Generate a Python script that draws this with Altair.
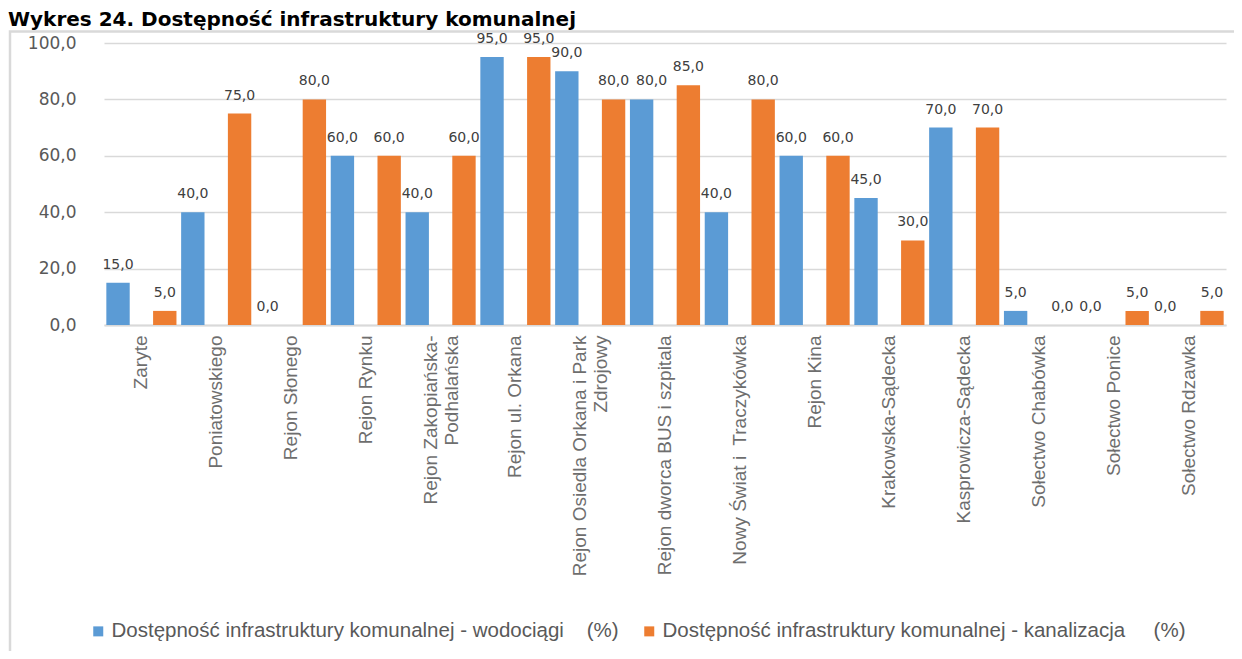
import altair as alt
import pandas as pd

NB = "\u00a0"

categories = [
    "Zaryte",
    "Poniatowskiego",
    "Rejon Słonego",
    "Rejon Rynku",
    "Rejon Zakopiańska-|Podhalańska" + NB * 6,
    "Rejon ul. Orkana",
    "Rejon Osiedla Orkana i Park|Zdrojowy" + NB * 16,
    "Rejon dworca BUS i szpitala",
    "Nowy Świat i" + NB + " Traczykówka",
    "Rejon Kina",
    "Krakowska-Sądecka",
    "Kasprowicza-Sądecka",
    "Sołectwo Chabówka",
    "Sołectwo Ponice",
    "Sołectwo Rdzawka",
]
wodociagi = [15, 40, 0, 60, 40, 95, 90, 80, 40, 60, 45, 70, 5, 0, 0]
kanalizacja = [5, 75, 80, 60, 60, 95, 80, 85, 80, 60, 30, 70, 0, 5, 5]
series_names = [
    "Dostępność infrastruktury komunalnej - wodociągi" + NB * 3 + " (%)",
    "Dostępność infrastruktury komunalnej - kanalizacja" + NB * 4 + " (%)",
]
series_colors = ["#5B9BD5", "#ED7D31"]
y_ticks = [0, 20, 40, 60, 80, 100]
title_text = "Wykres 24. Dostępność infrastruktury komunalnej"
# the one data label that the reference nudges sideways to avoid its neighbour
nudged_category = "Rejon dworca BUS i szpitala"

rows = []
for i, c in enumerate(categories):
    rows.append({"cat": c, "series": series_names[0], "value": wodociagi[i],
                 "nudge": c == nudged_category})
    rows.append({"cat": c, "series": series_names[1], "value": kanalizacja[i],
                 "nudge": False})
df = pd.DataFrame(rows)

x_enc = alt.X(
    "cat:N",
    sort=categories,
    scale=alt.Scale(paddingInner=0, paddingOuter=0),
    axis=alt.Axis(
        title=None,
        labelAngle=270,
        labelAlign="right",
        labelBaseline="middle",
        labelPadding=10,
        labelOffset={"condition": {"test": "indexof(datum.value, '|') >= 0", "value": -10}, "value": 0},
        labelFont="Liberation Sans",
        labelFontSize=19,
        labelColor="#6e6e6e",
        labelLimit=0,
        labelLineHeight=21,
        labelExpr="split(datum.label, '|')",
        ticks=False,
        grid=False,
        domain=True,
        domainColor="#d9d9d9",
        domainWidth=2,
        labelOverlap=False,
    ),
)
xoff_enc = alt.XOffset(
    "series:N",
    scale=alt.Scale(domain=[series_names[0], "_gap", series_names[1]],
                    paddingInner=0, paddingOuter=0.1),
)
y_enc = alt.Y(
    "value:Q",
    scale=alt.Scale(domain=[0, 100], nice=False),
    axis=alt.Axis(
        title=None,
        values=y_ticks,
        labelExpr="replace(format(datum.value, '.1f'), '.', ',')",
        labelFont="DejaVu Sans",
        labelFontSize=17,
        labelColor="#595959",
        labelPadding=28,
        ticks=False,
        domain=False,
        grid=True,
        gridColor="#d9d9d9",
        gridWidth=1.3,
    ),
)

base = alt.Chart(df)

bars = base.mark_bar().encode(
    x=x_enc,
    xOffset=xoff_enc,
    y=y_enc,
    color=alt.Color(
        "series:N",
        scale=alt.Scale(domain=series_names, range=series_colors),
        legend=alt.Legend(
            title=None,
            orient="none",
            legendX=-16,
            legendY=578,
            direction="horizontal",
            symbolType="square",
            symbolSize=100,
            symbolStrokeWidth=0,
            labelFont="Liberation Sans",
            labelFontSize=20.5,
            labelColor="#595959",
            labelLimit=0,
            labelOffset=3,
            columnPadding=20,
        ),
    ),
)

label_base = base.transform_calculate(
    lbl="replace(format(datum.value, '.1f'), '.', ',')"
)
label_enc = dict(
    x=alt.X("cat:N", sort=categories),
    xOffset=alt.XOffset("series:N"),
    y=alt.Y("value:Q"),
    text="lbl:N",
)
label_style = dict(font="DejaVu Sans", fontSize=14, color="#404040", baseline="alphabetic", dy=-14)

labels = label_base.transform_filter("!datum.nudge").mark_text(**label_style).encode(**label_enc)
labels_nudged = label_base.transform_filter("datum.nudge").mark_text(dx=10, **label_style).encode(**label_enc)

one = pd.DataFrame({"a": [0]})
frame = alt.Chart(one).mark_rect(fill="transparent", stroke="#d9d9d9", strokeWidth=2.5).encode(
    x=alt.value(-94), x2=alt.value(1200), y=alt.value(-11.5), y2=alt.value(700)
)
title = alt.Chart(one).mark_text(
    text=title_text, font="DejaVu Sans", fontWeight="bold", fontSize=20,
    align="left", baseline="alphabetic", color="#000000"
).encode(x=alt.value(-96), y=alt.value(-17))

chart = alt.layer(frame, bars, labels, labels_nudged, title).properties(
    width=1122,
    height=282,
    autosize=alt.AutoSizeParams(type="none"),
    padding={"left": 96, "top": 35, "right": 8, "bottom": 326},
).configure_view(stroke=None)

chart.save("out.html", embed_options={"renderer": "svg", "actions": False})
